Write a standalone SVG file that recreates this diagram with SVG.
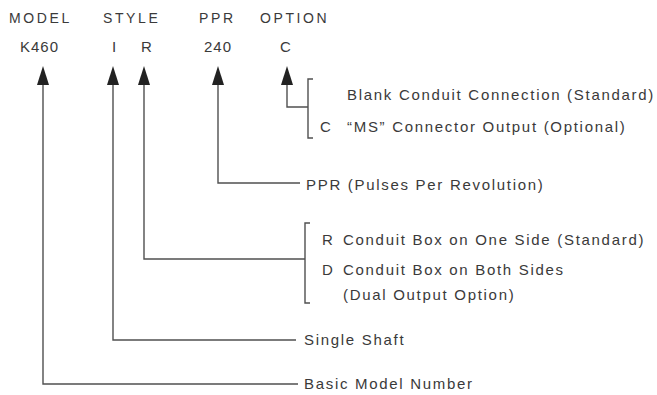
<svg xmlns="http://www.w3.org/2000/svg" width="657" height="395" viewBox="0 0 657 395">
<defs>
<style>
text{font-family:"Liberation Sans","DejaVu Sans",sans-serif;font-size:15px;fill:#3a3a3a;letter-spacing:1.7px}
.h{font-size:14px;letter-spacing:2.6px}
.v{font-size:15px;letter-spacing:1px}
.c{fill:none;stroke:#505050;stroke-width:1.4}
.a{fill:#222}
</style>
</defs>
<rect width="657" height="395" fill="#fff"/>
<g id="header">
<text class="h" x="9" y="23">MODEL</text>
<text class="h" x="103" y="23">STYLE</text>
<text class="h" x="199" y="23">PPR</text>
<text class="h" x="260" y="23">OPTION</text>
<text class="v" x="20" y="52">K460</text>
<text class="v" x="112" y="52">I</text>
<text class="v" x="141" y="52">R</text>
<text class="v" x="204" y="52">240</text>
<text class="v" x="280" y="52">C</text>
</g>
<g id="connectors">
<polyline class="c" points="43,82 43,384 298,384"/>
<polyline class="c" points="113,82 113,340 296,340"/>
<polyline class="c" points="144,82 144,259 305,259"/>
<polyline class="c" points="218,82 218,183 300,183"/>
<polyline class="c" points="287,82 287,107 308,107"/>
<polygon class="a" points="43,66 37,85 49,85"/>
<polygon class="a" points="113,66 107,85 119,85"/>
<polygon class="a" points="144,66 138,85 150,85"/>
<polygon class="a" points="218,66 212,85 224,85"/>
<polygon class="a" points="287,66 281,85 293,85"/>
</g>
<g id="option">
<polyline class="c" points="313,79 308,79 308,138 313,138"/>
<text x="347" y="100">Blank Conduit Connection (Standard)</text>
<text x="320" y="132">C</text>
<text x="347" y="132">“MS” Connector Output (Optional)</text>
</g>
<g id="ppr">
<text x="306" y="190">PPR (Pulses Per Revolution)</text>
</g>
<g id="style-r">
<polyline class="c" points="310,223 305,223 305,303 310,303"/>
<text x="322" y="245">R</text>
<text x="343" y="245">Conduit Box on One Side (Standard)</text>
<text x="322" y="275">D</text>
<text x="343" y="275">Conduit Box on Both Sides</text>
<text x="343" y="300">(Dual Output Option)</text>
</g>
<g id="style-i">
<text x="304" y="345">Single Shaft</text>
</g>
<g id="model">
<text x="304" y="389">Basic Model Number</text>
</g>
</svg>
